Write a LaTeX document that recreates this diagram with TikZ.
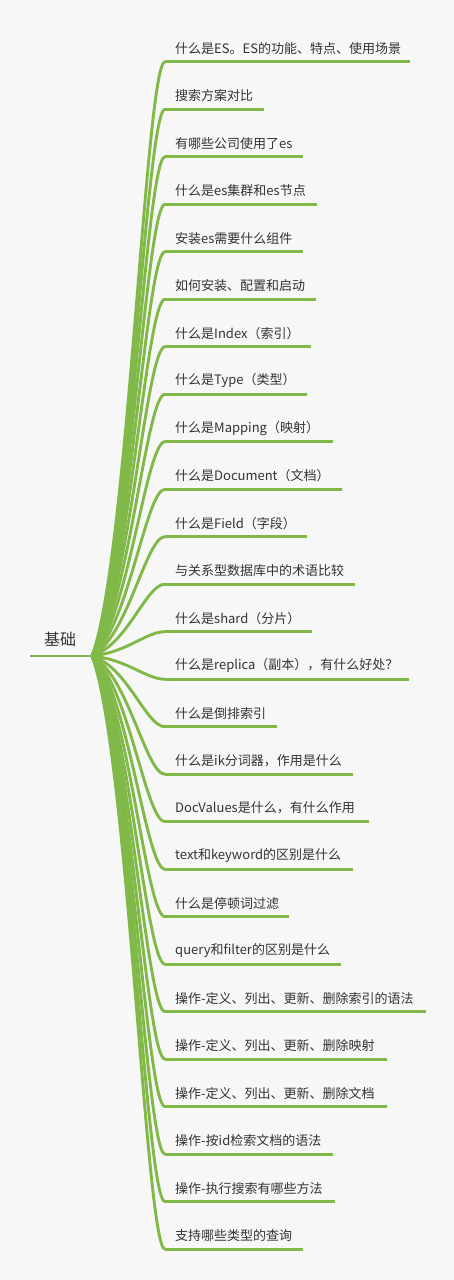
\documentclass[tikz,border=0pt]{standalone}
\usepackage{fontspec}
\setmainfont{Noto Sans CJK SC}
\usetikzlibrary{calc}
\definecolor{bg}{HTML}{F7F7F7}
\definecolor{grn}{HTML}{80B948}
\definecolor{txt}{HTML}{333333}
\begin{document}
\begin{tikzpicture}[x=1pt,y=-1pt,
  item/.style={anchor=west,inner sep=0pt,font=\fontsize{13}{13}\selectfont,text=txt},
  rootlabel/.style={inner sep=0pt,font=\fontsize{16}{16}\selectfont,text=txt},
  branch/.style={draw=grn,line width=2.9pt,line cap=round},
  uline/.style={draw=grn,line width=3pt}]
\fill[bg] (0,0) rectangle (454,1280);
\useasboundingbox (0,0) rectangle (454,1280);
\node[rootlabel] (root) at (60,639) {基础};
\coordinate (rs) at (30,656);
\coordinate (hub) at (92,656);
\draw[uline,line width=2.5pt] (rs) -- (hub);
\foreach \i/\e/\t in {
 1/410/{什么是ES。ES的功能、特点、使用场景},
 2/264/{搜索方案对比},
 3/303/{有哪些公司使用了es},
 4/317/{什么是es集群和es节点},
 5/303/{安装es需要什么组件},
 6/316/{如何安装、配置和启动},
 7/311/{什么是Index（索引）},
 8/307/{什么是Type（类型）},
 9/333/{什么是Mapping（映射）},
 10/342/{什么是Document（文档）},
 11/307/{什么是Field（字段）},
 12/355/{与关系型数据库中的术语比较},
 13/312/{什么是shard（分片）},
 14/409/{什么是replica（副本），有什么好处？},
 15/277/{什么是倒排索引},
 16/353/{什么是ik分词器，作用是什么},
 17/369/{DocValues是什么，有什么作用},
 18/353/{text和keyword的区别是什么},
 19/289/{什么是停顿词过滤},
 20/341/{query和filter的区别是什么},
 21/426/{操作-定义、列出、更新、删除索引的语法},
 22/387/{操作-定义、列出、更新、删除映射},
 23/387/{操作-定义、列出、更新、删除文档},
 24/333/{操作-按id检索文档的语法},
 25/335/{操作-执行搜索有哪些方法},
 26/303/{支持哪些类型的查询}} {
  \pgfmathsetmacro{\yy}{61.7+(\i-1)*47.5}
  \pgfmathsetmacro{\ya}{656+0.16*(\yy-656)}
  \coordinate (s\i) at (165,\yy);
  \coordinate (e\i) at (\e,\yy);
  \node[item] (t\i) at (175,\yy-13.5) {\t};
  \draw[branch] (hub) .. controls (128,\ya) and (146,\yy) .. (s\i);
  \draw[uline] (s\i) -- (e\i);
}
\end{tikzpicture}
\end{document}
